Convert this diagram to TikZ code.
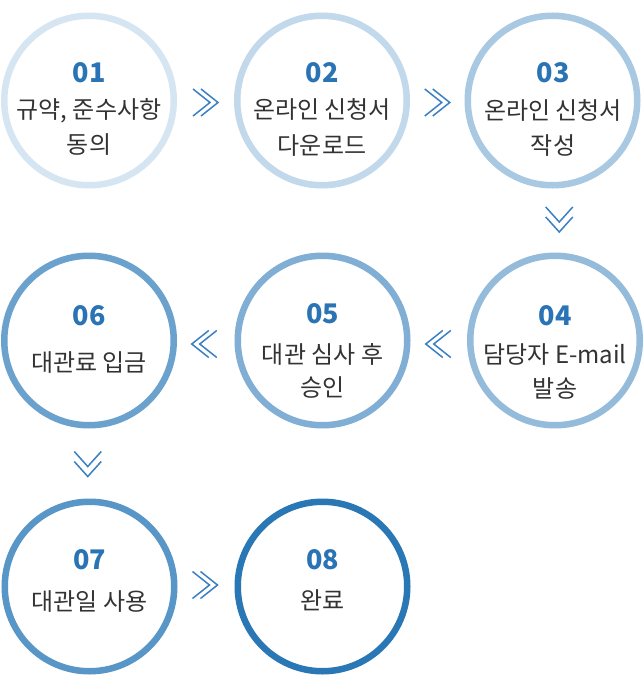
\documentclass[tikz,border=0pt]{standalone}
\usepackage{fontspec}
\setmainfont{Noto Sans CJK KR}
\usetikzlibrary{calc}
\definecolor{cA}{HTML}{D6E5F2}
\definecolor{cB}{HTML}{C2D8EB}
\definecolor{cC}{HTML}{A9C8E2}
\definecolor{cD}{HTML}{95BBDB}
\definecolor{cE}{HTML}{80AED4}
\definecolor{cF}{HTML}{6BA1CD}
\definecolor{cG}{HTML}{5896C7}
\definecolor{cH}{HTML}{2A77B5}
\definecolor{numcol}{HTML}{2A74B5}
\definecolor{txtcol}{HTML}{333333}
\definecolor{chevcol}{HTML}{3A80C2}
\begin{document}
\begin{tikzpicture}[x=1pt,y=-1pt,
  ring/.style={circle, draw=#1, line width=6.5pt, minimum size=169.5pt, inner sep=0pt},
  num/.style={anchor=base, text=numcol, font=\fontsize{27}{27}\selectfont\bfseries, inner sep=0pt},
  lbl/.style={anchor=base, text=txtcol, font=\fontsize{24}{24}\selectfont, inner sep=0pt},
  chev/.style={draw=chevcol, line width=1.5pt, miter limit=10},
  rchev/.pic={\draw[chev] (-12.5,-13.5) -- (4.5,0) -- (-12.5,13.5);
              \draw[chev] (-4.5,-13.5) -- (12.5,0) -- (-4.5,13.5);},
  lchev/.pic={\draw[chev] (12.5,-13.5) -- (-4.5,0) -- (12.5,13.5);
              \draw[chev] (4.5,-13.5) -- (-12.5,0) -- (4.5,13.5);},
  dchev/.pic={\draw[chev] (-13.5,-12.5) -- (0,2.5) -- (13.5,-12.5);
              \draw[chev] (-13.5,-2.5) -- (0,12.5) -- (13.5,-2.5);}
]
\useasboundingbox (0,0) rectangle (644,690);
\fill[white] (0,0) rectangle (644,690);

% circles
\node[ring=cA] (c1) at (89,100.5) {};
\node[ring=cB] (c2) at (322,100.5) {};
\node[ring=cC] (c3) at (552.5,100.5) {};
\node[ring=cD] (c4) at (555,340.5) {};
\node[ring=cE] (c5) at (322.5,340.5) {};
\node[ring=cF] (c6) at (89,340.5) {};
\node[ring=cG] (c7) at (89.5,586.5) {};
\node[ring=cH] (c8) at (322.5,586.5) {};

% texts
\node[num] (n1) at (89,83) {01};
\node[lbl] (t1a) at (89,118) {규약, 준수사항};
\node[lbl] (t1b) at (89,153) {동의};

\node[num] (n2) at (322,83) {02};
\node[lbl] (t2a) at (322,119) {온라인 신청서};
\node[lbl] (t2b) at (322,154) {다운로드};

\node[num] (n3) at (553,83) {03};
\node[lbl] (t3a) at (553,120) {온라인 신청서};
\node[lbl] (t3b) at (553,154) {작성};

\node[num] (n4) at (555,325) {04};
\node[lbl] (t4a) at (555,363) {담당자 E-mail};
\node[lbl] (t4b) at (555,397) {발송};

\node[num] (n5) at (322.5,323) {05};
\node[lbl] (t5a) at (322.5,363) {대관 심사 후};
\node[lbl] (t5b) at (322.5,396) {승인};

\node[num] (n6) at (89,325) {06};
\node[lbl] (t6a) at (89,371) {대관료 입금};

\node[num] (n7) at (89.5,569) {07};
\node[lbl] (t7a) at (89.5,610) {대관일 사용};

\node[num] (n8) at (322.5,569) {08};
\node[lbl] (t8a) at (322.5,609.5) {완료};

% chevrons
\path ($(c1)!0.5!(c2)+(0,2)$) pic {rchev};
\path ($(c2)!0.5!(c3)+(0,2)$) pic {rchev};
\path ($(c3)!0.5!(c4)+(5.5,-1)$) pic {dchev};
\path ($(c4)!0.5!(c5)+(-0.5,3.5)$) pic {lchev};
\path ($(c5)!0.5!(c6)+(-1.5,3.5)$) pic {lchev};
\path ($(c6)!0.5!(c7)+(-1.5,0.5)$) pic {dchev};
\path ($(c7)!0.5!(c8)+(-1,-1.5)$) pic {rchev};
\end{tikzpicture}
\end{document}
